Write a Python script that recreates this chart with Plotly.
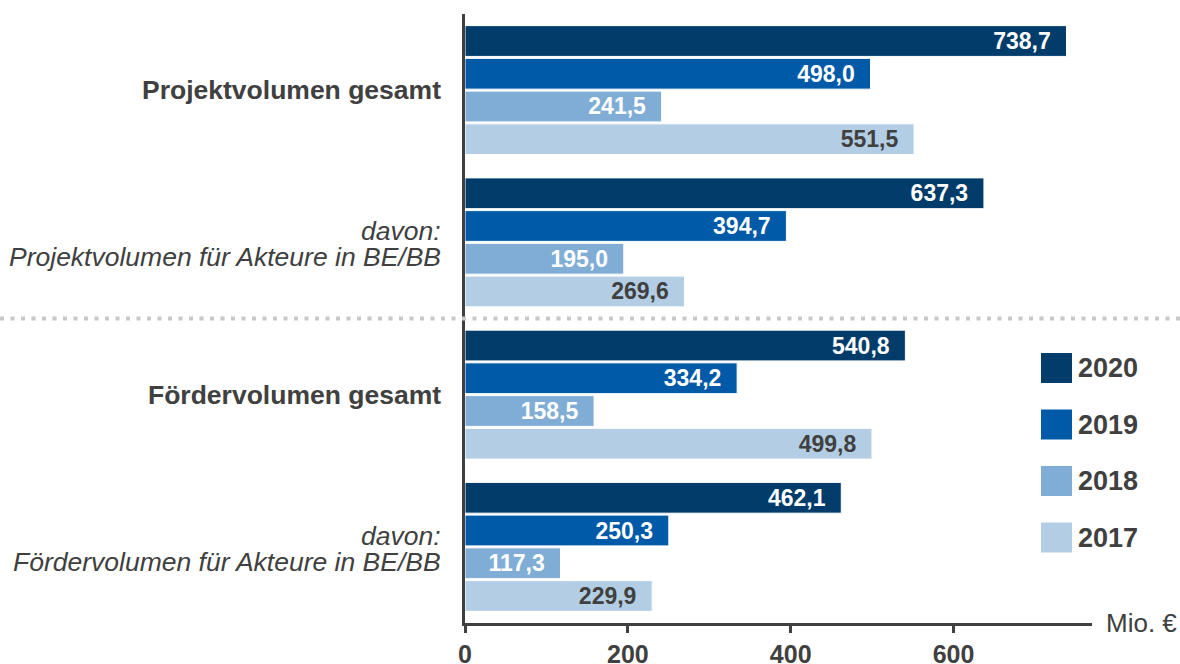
import plotly.graph_objects as go

categories = ["PV gesamt", "PV BE/BB", "FV gesamt", "FV BE/BB"]
category_lines = [
    ["Projektvolumen gesamt"],
    ["davon:", "Projektvolumen für Akteure in BE/BB"],
    ["Fördervolumen gesamt"],
    ["davon:", "Fördervolumen für Akteure in BE/BB"],
]
category_bold = [True, False, True, False]
years = ["2020", "2019", "2018", "2017"]
values = {
    "2020": [738.7, 637.3, 540.8, 462.1],
    "2019": [498.0, 394.7, 334.2, 250.3],
    "2018": [241.5, 195.0, 158.5, 117.3],
    "2017": [551.5, 269.6, 499.8, 229.9],
}
colors = {"2020": "#013C6B", "2019": "#005AA7", "2018": "#80ADD5", "2017": "#B3CEE4"}
label_colors = {"2020": "white", "2019": "white", "2018": "white", "2017": "#404040"}
x_ticks = [0, 200, 400, 600]

W, H = 1180, 664
ML, MR, MT, MB = 465, 88, 14, 41
PW, PH = W - ML - MR, H - MT - MB
FONT = "Liberation Sans, Arial, sans-serif"
GREY = "#404040"

def px_x(p):
    return (p - ML) / PW

def px_y(p):
    return 1 - (p - MT) / PH

fig = go.Figure()
for yr in years:
    fig.add_trace(go.Bar(
        name=yr, y=categories, x=values[yr], orientation="h",
        marker=dict(color=colors[yr], line=dict(color="white", width=1)),
        texttemplate="%{x:.1f}\u00a0\u00a0", textposition="inside",
        insidetextanchor="end", textangle=0, constraintext="none",
        textfont=dict(family=FONT, size=23, color=label_colors[yr], weight="bold"),
        showlegend=False, hoverinfo="skip",
    ))

shapes = []
annotations = []
# dotted separator between Projekt and Förder blocks
shapes.append(dict(type="line", xref="paper", yref="y", x0=px_x(0), x1=px_x(W),
                   y0=1.5, y1=1.5, line=dict(color="#C8C8C8", width=4, dash="4px,6.5px"),
                   layer="above"))

# category labels
for cat, lines, bold in zip(categories, category_lines, category_bold):
    shifts = [0] if len(lines) == 1 else [11, -15]
    for line, ys in zip(lines, shifts):
        txt = "<b>%s</b>" % line if bold else "<i>%s</i>" % line
        annotations.append(dict(xref="paper", yref="y", x=0, y=cat, xshift=-22, yshift=ys,
                                text=txt, showarrow=False, xanchor="right", yanchor="middle",
                                font=dict(family=FONT, size=26.5, color=GREY)))

# custom legend
leg_top = 353
leg_pitch = 56.5
for i, yr in enumerate(years):
    top = leg_top + i * leg_pitch
    shapes.append(dict(type="rect", xref="paper", yref="paper",
                       x0=px_x(1041), x1=px_x(1072), y0=px_y(top + 30), y1=px_y(top),
                       fillcolor=colors[yr], line=dict(width=0)))
    annotations.append(dict(xref="paper", yref="paper", x=px_x(1076), y=px_y(top + 15),
                            text="<b>%s</b>" % yr, showarrow=False, xanchor="left", yanchor="middle",
                            font=dict(family=FONT, size=27, color=GREY)))

annotations.append(dict(xref="paper", yref="paper", x=px_x(1104), y=px_y(623),
                        text="Mio. €", showarrow=False, xanchor="left", yanchor="middle",
                        font=dict(family=FONT, size=26, color=GREY)))

fig.update_layout(
    width=W, height=H, margin=dict(l=ML, r=MR, t=MT, b=MB, autoexpand=False),
    paper_bgcolor="white", plot_bgcolor="white",
    barmode="group", bargap=0.14, bargroupgap=0.06,
    separators=",.",
    font=dict(family=FONT, color=GREY),
    shapes=shapes, annotations=annotations,
    xaxis=dict(range=[0, 770], tickvals=x_ticks, ticks="outside", ticklen=7, tickwidth=3,
               tickcolor=GREY, showline=True, linecolor=GREY, linewidth=3,
               showgrid=False, zeroline=False,
               tickfont=dict(family=FONT, size=25, color=GREY, weight="bold")),
    yaxis=dict(type="category", autorange="reversed", showline=True, linecolor=GREY,
               linewidth=3, ticks="", showgrid=False, showticklabels=False),
)

fig.write_html("out.html", config={"displayModeBar": False},
               post_script="document.body.style.margin='0px';document.body.style.overflow='hidden';")
